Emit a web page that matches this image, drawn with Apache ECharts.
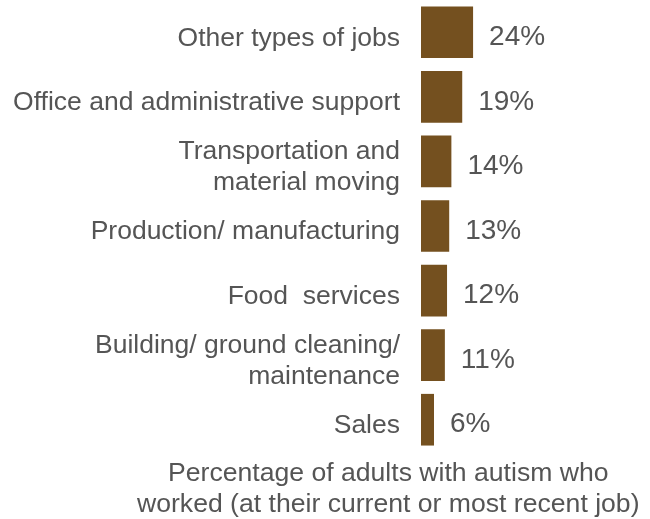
<!DOCTYPE html>
<html>
<head>
<meta charset="utf-8">
<script src="https://cdn.jsdelivr.net/npm/echarts@6/dist/echarts.min.js"></script>
<style>
  html, body { margin: 0; padding: 0; background: #fff; }
  #chart { width: 650px; height: 519px; }
</style>
</head>
<body>
<div id="chart"></div>
<script>
// job categories, top to bottom
var categories = [
  'Other types of jobs',
  'Office and administrative support',
  'Transportation and\nmaterial moving',
  'Production/ manufacturing',
  'Food  services',
  'Building/ ground cleaning/\nmaintenance',
  'Sales'
]
var percents = [24, 19, 14, 13, 12, 11, 6]
var axisTitle = 'Percentage of adults with autism who\nworked (at their current or most recent job)'

var textColor = '#555555'
var barColor = '#74501f'
var font = 'Liberation Sans, Arial, sans-serif'

var chart = echarts.init(document.getElementById('chart'))
chart.setOption({
  backgroundColor: '#ffffff',
  animation: false,
  // grid 0 holds the bars, grid 1 only carries the category labels (sits a bit lower)
  grid: [
    { left: 421, width: 217, top: 0, height: 452 },
    { left: 421, width: 217, top: 6, height: 452 }
  ],
  xAxis: [
    { type: 'value', min: 0, max: 100, show: false, gridIndex: 0 },
    { type: 'value', min: 0, max: 100, show: false, gridIndex: 1 }
  ],
  yAxis: [{
    type: 'category',
    gridIndex: 0,
    data: categories,
    inverse: true,
    axisLine: { show: false },
    axisTick: { show: false },
    axisLabel: { show: false }
  }, {
    type: 'category',
    gridIndex: 1,
    data: categories,
    inverse: true,
    axisLine: { show: false },
    axisTick: { show: false },
    splitLine: { show: false },
    axisLabel: {
      margin: 21,
      color: textColor,
      fontFamily: font,
      fontSize: 26.5,
      lineHeight: 31,
      align: 'right'
    }
  }],
  series: [{
    type: 'bar',
    xAxisIndex: 0,
    yAxisIndex: 0,
    data: percents,
    barCategoryGap: '20%',
    itemStyle: { color: barColor },
    label: {
      show: true,
      position: 'right',
      distance: 16,
      offset: [0, 5],
      color: textColor,
      fontFamily: font,
      fontSize: 28,
      formatter: '{c}%'
    }
  }],
  graphic: [{
    type: 'text',
    left: 137,
    top: 458,
    style: {
      text: axisTitle,
      textAlign: 'center',
      fill: textColor,
      font: '26.6px "Liberation Sans", Arial, sans-serif',
      lineHeight: 31
    }
  }]
})
</script>
</body>
</html>
